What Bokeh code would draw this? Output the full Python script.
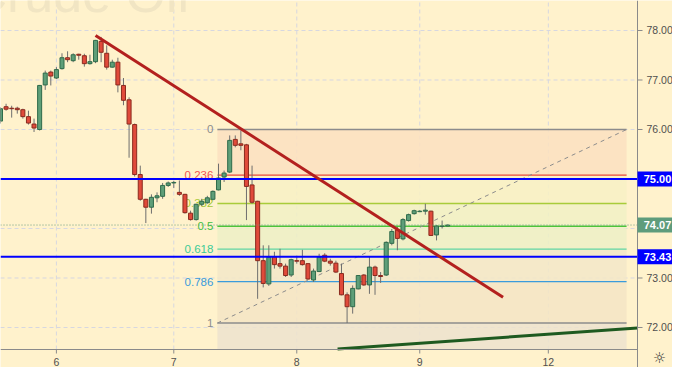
from bokeh.plotting import figure
from bokeh.models import Range1d, ColumnDataSource
from bokeh.core.properties import value
from bokeh.embed import file_html
from bokeh.resources import INLINE

# ---- data (hourly candles, index = bar number) ----
opens = [76.17, 76.46, 76.43, 76.43, 76.40, 76.26, 76.11, 76.00, 76.90, 77.16,
         77.04, 77.23, 77.45, 77.39, 77.52, 77.49, 77.33, 77.37, 77.78, 77.54,
         77.26, 77.36, 76.89, 76.60, 76.10, 75.09, 74.59, 74.43, 74.62, 74.65,
         74.87, 74.92, 74.73, 74.69, 74.31, 74.18, 74.49, 74.52, 74.59, 74.78,
         75.04, 75.14, 75.80, 75.71, 75.69, 74.88, 74.55, 73.35, 72.88, 73.43,
         73.29, 73.24, 73.06, 73.35, 73.35, 73.29, 72.96, 73.13, 73.46, 73.34,
         73.30, 73.09, 72.66, 72.42, 72.78, 73.06, 72.86, 73.22, 73.05, 73.06,
         73.70, 73.97, 73.79, 74.16, 74.30, 74.34, 74.35, 74.35, 73.87, 74.04,
         74.05]
highs = [76.45, 76.52, 76.48, 76.46, 76.42, 76.38, 76.22, 76.90, 77.19, 77.19,
         77.26, 77.54, 77.58, 77.54, 77.53, 77.53, 77.51, 77.81, 77.87, 77.70,
         77.41, 77.45, 77.04, 76.65, 76.12, 75.27, 74.60, 74.69, 74.73, 74.92,
         74.95, 74.96, 74.97, 74.70, 74.36, 74.50, 74.60, 74.66, 74.77, 75.31,
         75.17, 75.88, 75.88, 75.98, 75.71, 75.27, 74.56, 73.66, 73.66, 73.53,
         73.59, 73.29, 73.39, 73.45, 73.57, 73.30, 73.19, 73.49, 73.50, 73.39,
         73.35, 73.29, 72.71, 72.85, 73.06, 73.08, 73.43, 73.25, 73.12, 73.74,
         73.99, 74.03, 74.21, 74.30, 74.38, 74.37, 74.50, 74.36, 74.07, 74.16,
         74.08]
lows = [76.12, 76.38, 76.24, 76.32, 76.22, 76.10, 75.95, 75.98, 76.80, 76.89,
        77.02, 77.21, 77.36, 77.36, 77.41, 77.27, 77.31, 77.34, 77.36, 77.21,
        77.25, 76.75, 76.49, 75.43, 75.05, 74.56, 74.11, 74.30, 74.53, 74.60,
        74.84, 74.82, 74.66, 74.30, 74.16, 74.16, 74.45, 74.50, 74.57, 74.77,
        74.94, 75.12, 75.64, 75.58, 74.17, 74.50, 72.58, 72.81, 72.84, 73.19,
        73.19, 73.02, 73.02, 73.29, 73.25, 72.96, 72.92, 73.12, 73.32, 73.25,
        73.10, 72.65, 72.09, 72.28, 72.77, 72.84, 72.68, 72.66, 72.90, 73.04,
        73.66, 73.56, 73.76, 74.14, 74.28, 74.33, 74.28, 73.85, 73.76, 74.00,
        74.04]
closes = [76.42, 76.41, 76.42, 76.40, 76.26, 76.13, 76.03, 76.89, 77.14, 77.08,
          77.21, 77.45, 77.41, 77.51, 77.50, 77.33, 77.37, 77.80, 77.56, 77.26,
          77.36, 76.90, 76.59, 76.11, 75.09, 74.59, 74.43, 74.63, 74.66, 74.87,
          74.92, 74.93, 74.69, 74.32, 74.18, 74.49, 74.55, 74.62, 74.75, 75.02,
          75.12, 75.78, 75.68, 75.68, 74.85, 74.53, 73.35, 72.89, 73.42, 73.27,
          73.24, 73.05, 73.37, 73.34, 73.27, 72.98, 73.14, 73.42, 73.34, 73.30,
          73.12, 72.66, 72.42, 72.79, 73.05, 72.86, 73.22, 73.05, 73.03, 73.72,
          73.94, 73.80, 74.18, 74.28, 74.36, 74.35, 74.37, 73.86, 74.05, 74.05,
          74.07]

day_ticks = [10, 31, 53, 75, 98]
day_labels = ["6", "7", "8", "9", "12"]
price_ticks = [72, 73, 74, 75, 76, 77, 78]

fib_high = 76.00
fib_low = 72.09
fib_ratios = [0, 0.236, 0.382, 0.5, 0.618, 0.786, 1, 1.618]
fib_labels = ["0", "0.236", "0.382", "0.5", "0.618", "0.786", "1", "1.618"]
fib_start = 38.8
fib_end = 112.0

hlines = [75.00, 73.43]
last_price = 74.07

red_trend_x = [17.0, 89.9]
red_trend_y = [77.90, 72.61]
green_trend_x = [60.3, 113.95]
green_trend_y = [71.566, 71.99]

# ---- layout / scale constants ----
W, H = 672, 367
PXB = 5.59          # pixels per bar
PYD = 49.5          # pixels per dollar
Y_TOP = 78.606      # price at the top edge of the canvas
X_R = 637 / PXB     # right edge of the price pane (in bars)
Y_B = Y_TOP - 349 / PYD   # bottom edge of the price pane (in price)


def bx(px):
    return px / PXB


def py(pix):
    return Y_TOP - pix / PYD


BG = "#FFF2CC"
AXIS = "#8A8A8A"
GRID = "#D6D7E0"
TXT = "#4F4F4F"
FONT = value("Liberation Sans")
fib_line_colors = ["#8C8C8C", "#E8483A", "#A8CC3A", "#4DC43A", "#5FD6A3", "#3A9BDC", "#8C8C8C", "#8C8C8C"]
fib_text_colors = ["#8C8C8C", "#EF5350", "#A5C934", "#3FC03F", "#3CCB97", "#3A9BDC", "#8C8C8C", "#8C8C8C"]
zone_colors = ["#FBE1C0", "#F8F1C4", "#F1F1C4", "#EDF0C6", "#F3E8C8", "#F5E5C4", "#EDE3CE"]

p = figure(width=W, height=H, x_range=Range1d(0, W / PXB), y_range=Range1d(Y_TOP - H / PYD, Y_TOP),
           output_backend="svg", toolbar_location=None,
           min_border_left=0, min_border_top=0, min_border_right=0, min_border_bottom=0)
p.axis.visible = False
p.grid.visible = False
p.background_fill_color = BG
p.border_fill_color = BG
p.outline_line_color = None

# grid
p.segment(x0=day_ticks, x1=day_ticks, y0=[Y_B] * len(day_ticks), y1=[Y_TOP] * len(day_ticks),
          line_color=GRID, line_dash="4 3", line_width=1)
p.segment(x0=[0] * len(price_ticks), x1=[X_R] * len(price_ticks), y0=price_ticks, y1=price_ticks,
          line_color=GRID, line_dash="4 3", line_width=1)

# watermark
p.text(x=[bx(-31)], y=[py(-7)], text=["Crude Oil"], text_font=FONT,
       text_font_size="52px", text_color="#F1E5C3", text_baseline="middle")

# fib zones
levels = [fib_high - r * (fib_high - fib_low) for r in fib_ratios]
zone_bottoms = levels[1:]
zone_bottoms[-1] = max(zone_bottoms[-1], Y_B)
p.quad(left=[fib_start] * len(zone_bottoms), right=[fib_end] * len(zone_bottoms),
       top=levels[:-1], bottom=zone_bottoms, fill_color=zone_colors, fill_alpha=0.85, line_color=None)
for lv, c in zip(levels, fib_line_colors):
    if lv > Y_B:
        p.line([fib_start, fib_end], [lv, lv], line_color=c, line_width=1.4)
p.line([fib_start, fib_end], [fib_low, fib_high], line_color="#8C8C8C", line_dash="4 4", line_width=1)
vis = [i for i, lv in enumerate(levels) if lv > Y_B]
p.text(x=[fib_start - bx(4)] * len(vis), y=[levels[i] for i in vis], text=[fib_labels[i] for i in vis],
       text_color=[fib_text_colors[i] for i in vis], text_font=FONT, text_font_size="11.5px",
       text_align="right", text_baseline="middle")

# candles
idx = list(range(len(opens)))
up = [c >= o for o, c in zip(opens, closes)]
src = ColumnDataSource(dict(
    x=idx, o=opens, h=highs, l=lows, c=closes,
    top=[max(o, c) for o, c in zip(opens, closes)],
    bot=[min(o, c) for o, c in zip(opens, closes)],
    fill=["#5E9E78" if u else "#E04A3A" for u in up],
    edge=["#2F6B4B" if u else "#8A2A1E" for u in up],
))
p.segment(x0="x", y0="l", x1="x", y1="h", source=src, line_color="#6E6E6E", line_width=1)
p.vbar(x="x", width=0.72, top="top", bottom="bot", source=src, fill_color="fill", line_color="edge",
       line_width=1)

# last price dotted line
p.line([0, X_R], [last_price, last_price], line_color="#6A9C80", line_dash="1 2", line_width=1)

# blue horizontal levels
for lv in hlines:
    p.line([0, X_R], [lv, lv], line_color="#0000FF", line_width=2)

# trend lines
p.line(red_trend_x, red_trend_y, line_color="#B3201E", line_width=3)
p.line(green_trend_x, green_trend_y, line_color="#1E5A20", line_width=3)

# ---- axes (price pane on the right, days below) ----
p.segment(x0=[X_R], x1=[X_R], y0=[Y_TOP - H / PYD], y1=[Y_TOP], line_color=AXIS, line_width=1)
p.segment(x0=[0], x1=[X_R], y0=[Y_B], y1=[Y_B], line_color=AXIS, line_width=1)
p.segment(x0=[X_R] * len(price_ticks), x1=[X_R + bx(5)] * len(price_ticks), y0=price_ticks, y1=price_ticks,
          line_color=AXIS, line_width=1)
p.text(x=[X_R + bx(9)] * len(price_ticks), y=price_ticks, text=["%.2f" % t for t in price_ticks],
       text_color=TXT, text_font=FONT, text_font_size="10.5px", text_align="left", text_baseline="middle")
p.segment(x0=day_ticks, x1=day_ticks, y0=[Y_B] * len(day_ticks), y1=[Y_B - 4 / PYD] * len(day_ticks),
          line_color=AXIS, line_width=1)
p.text(x=day_ticks, y=[py(361)] * len(day_ticks), text=day_labels, text_color=TXT, text_font=FONT,
       text_font_size="10.5px", text_align="center", text_baseline="middle")

# price boxes on the axis
box_y = [hlines[0], hlines[1], last_price]
box_txt = ["%.2f" % v for v in box_y]
box_col = ["#0000FF", "#0000FF", "#5E9C7C"]
box_cx = X_R + bx(19)
p.rect(x=[box_cx] * 3, y=box_y, width=bx(38), height=15 / PYD, fill_color=box_col, line_color=None)
p.text(x=[box_cx + bx(1)] * 3, y=box_y, text=box_txt, text_color="white", text_font=FONT,
       text_font_size="11px", text_font_style="bold", text_align="center", text_baseline="middle")

# settings icon
p.text(x=[bx(659)], y=[py(357)], text=["\u263C"], text_color="#333333", text_font=value("DejaVu Sans"),
       text_font_size="15px", text_align="center", text_baseline="middle")

open("out.html", "w").write(file_html(p, INLINE))
